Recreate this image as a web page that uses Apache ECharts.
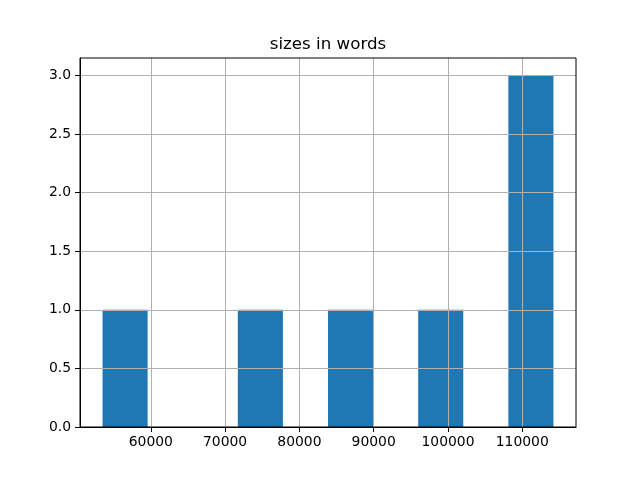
<!DOCTYPE html>
<html>
<head>
<meta charset="utf-8">
<script src="https://cdn.jsdelivr.net/npm/echarts@6/dist/echarts.min.js"></script>
<style>html,body{margin:0;padding:0;background:#fff}#c{width:640px;height:480px}</style>
</head>
<body>
<div id="c"></div>
<script>
const binEdges = [53500, 59570, 65640, 71710, 77780, 83850, 89920, 95990, 102060, 108130, 114200];
const counts = [1, 0, 0, 1, 0, 1, 0, 1, 0, 3];
const xTicks = [60000, 70000, 80000, 90000, 100000, 110000];
const yTicks = [0, 0.5, 1.0, 1.5, 2.0, 2.5, 3.0];
const titleText = 'sizes in words';

const data = counts.map((c, i) => [binEdges[i], binEdges[i + 1], c]);
const span = binEdges[binEdges.length - 1] - binEdges[0];
const xMin = binEdges[0] - span * 0.05;
const xMax = binEdges[binEdges.length - 1] + span * 0.05;
const yMax = Math.max(...counts) * 1.05;

const font = 'DejaVu Sans';
const chart = echarts.init(document.getElementById('c'), null, {renderer: 'canvas'});
chart.setOption({
  animation: false,
  backgroundColor: '#fff',
  title: {
    text: titleText, left: 323, top: 31, textAlign: 'center',
    textStyle: {fontFamily: font, fontSize: 16.7, fontWeight: 'normal', color: '#000'}
  },
  grid: {left: 80, right: 64, top: 58, bottom: 53, show: true, borderColor: '#000', borderWidth: 1, backgroundColor: 'transparent', z: 6},
  xAxis: {
    type: 'value', min: xMin, max: xMax, z: 5,
    axisLine: {show: true, lineStyle: {color: '#000', width: 1}},
    axisTick: {show: true, length: 5, inside: false, lineStyle: {color: '#000'}, customValues: xTicks},
    axisLabel: {color: '#000', fontFamily: font, fontSize: 13.9, margin: 8, customValues: xTicks, formatter: v => String(v)},
    splitLine: {show: true, lineStyle: {color: '#b0b0b0', width: 1}}
  },
  yAxis: {
    type: 'value', min: 0, max: yMax, z: 5,
    axisLine: {show: true, lineStyle: {color: '#000', width: 1}},
    axisTick: {show: true, length: 5, inside: false, lineStyle: {color: '#000'}, customValues: yTicks},
    axisLabel: {color: '#000', fontFamily: font, fontSize: 13.9, margin: 9, customValues: yTicks, formatter: v => v.toFixed(1)},
    splitLine: {show: true, lineStyle: {color: '#b0b0b0', width: 1}}
  },
  series: [{
    type: 'custom', z: 1,
    data: data,
    encode: {x: [0, 1], y: 2},
    renderItem: function (params, api) {
      const c = api.value(2);
      if (!c) return null;
      const p0 = api.coord([api.value(0), c]);
      const p1 = api.coord([api.value(1), 0]);
      return {type: 'rect', shape: {x: p0[0], y: p0[1], width: p1[0] - p0[0], height: p1[1] - p0[1]}, style: {fill: '#1f77b4'}};
    }
  }]
});
</script>
</body>
</html>
